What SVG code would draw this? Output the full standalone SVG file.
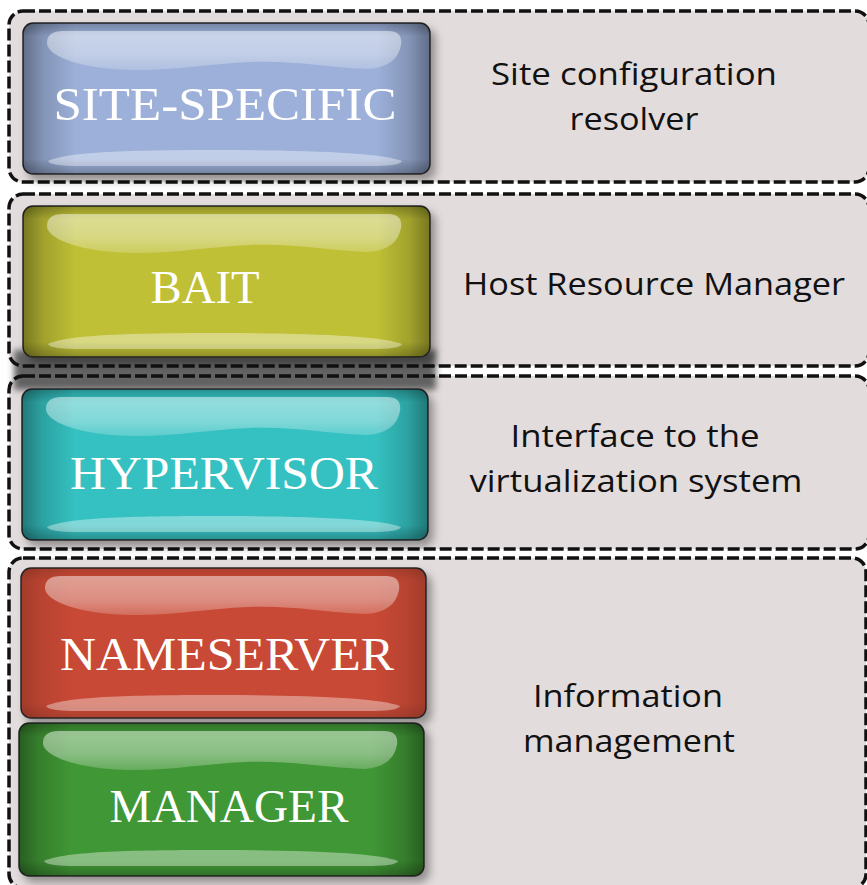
<svg xmlns="http://www.w3.org/2000/svg" width="867" height="885" viewBox="0 0 867 885">
<style>
.panel-bg{fill:#e3dcdc;stroke:none}
.panel-line{fill:none;stroke:#111;stroke-width:3.5;stroke-dasharray:12 4}
.btn{stroke:#2a2a2a;stroke-width:1.5}
.edge-h{fill:url(#edgeH)}
.edge-v{fill:url(#edgeV)}
.hl-top{fill:url(#hlTop)}
.hl-bot{fill:#ffffff;fill-opacity:0.38}
.btn-label{font-family:"Liberation Serif","DejaVu Serif",serif;font-size:46px;fill:#ffffff;text-anchor:middle}
.desc{font-family:"Open Sans","Noto Sans","DejaVu Sans",sans-serif;font-size:31px;fill:#111;text-anchor:middle}
</style>
<defs>
<linearGradient id="edgeH" x1="0" y1="0" x2="1" y2="0">
<stop offset="0" stop-color="#000" stop-opacity="0.38"/>
<stop offset="0.05" stop-color="#000" stop-opacity="0.16"/>
<stop offset="0.13" stop-color="#000" stop-opacity="0"/>
<stop offset="0.87" stop-color="#000" stop-opacity="0"/>
<stop offset="0.95" stop-color="#000" stop-opacity="0.16"/>
<stop offset="1" stop-color="#000" stop-opacity="0.38"/>
</linearGradient>
<linearGradient id="edgeV" x1="0" y1="0" x2="0" y2="1">
<stop offset="0" stop-color="#000" stop-opacity="0.26"/>
<stop offset="0.09" stop-color="#000" stop-opacity="0"/>
<stop offset="0.9" stop-color="#000" stop-opacity="0"/>
<stop offset="1" stop-color="#000" stop-opacity="0.26"/>
</linearGradient>
<linearGradient id="hlTop" x1="0" y1="0" x2="0" y2="1">
<stop offset="0" stop-color="#fff" stop-opacity="0.48"/>
<stop offset="0.6" stop-color="#fff" stop-opacity="0.38"/>
<stop offset="1" stop-color="#fff" stop-opacity="0.2"/>
</linearGradient>
<filter id="shadow" x="-10%" y="-20%" width="125%" height="150%">
<feDropShadow dx="5" dy="6" stdDeviation="4" flood-color="#000" flood-opacity="0.35"/>
</filter>
<filter id="blur" x="-10%" y="-50%" width="120%" height="200%">
<feGaussianBlur stdDeviation="3"/>
</filter>
<path id="hlTopShape" d="M 40 8 L 365 8 Q 380 8 378 22 Q 374 44 345 46 C 300 44 270 37 227 39 C 180 41 140 50 90 46 C 45 42 24 30 24 20 Q 24 8 40 8 Z"/>
<path id="hlBotShape" d="M 25 138 C 45 128 120 127 200 127 C 290 127 360 130 379 138 C 376 143 360 143 340 143 L 60 143 C 40 143 27 142 25 138 Z"/>
</defs>
<rect width="867" height="885" fill="#ffffff"/>

<g id="panels-bg">
<rect class="panel-bg" x="9" y="11" width="860" height="171" rx="14"/>
<rect class="panel-bg" x="9" y="194" width="860" height="172" rx="14"/>
<rect class="panel-bg" x="9" y="376" width="860" height="173" rx="14"/>
<rect class="panel-bg" x="9" y="558" width="857" height="330" rx="14"/>
</g>

<rect x="14" y="350" width="422" height="40" fill="#626262" filter="url(#blur)"/>

<g id="panels-outline">
<rect class="panel-line" x="9" y="11" width="860" height="171" rx="14"/>
<rect class="panel-line" x="9" y="194" width="860" height="172" rx="14"/>
<rect class="panel-line" x="9" y="376" width="860" height="173" rx="14"/>
<rect class="panel-line" x="9" y="558" width="857" height="330" rx="14"/>
</g>

<g id="site-specific" transform="translate(23,23)">
<rect class="btn" width="407" height="151" rx="10" fill="#9cb0d9" filter="url(#shadow)"/>
<rect class="edge-h" width="407" height="151" rx="10"/>
<rect class="edge-v" width="407" height="151" rx="10"/>
<use href="#hlTopShape" class="hl-top"/>
<use href="#hlBotShape" class="hl-bot"/>
<text class="btn-label" x="202" y="97" textLength="343" lengthAdjust="spacingAndGlyphs">SITE-SPECIFIC</text>
</g>

<g id="bait" transform="translate(23,206)">
<rect class="btn" width="407" height="151" rx="10" fill="#bfc034" filter="url(#shadow)"/>
<rect class="edge-h" width="407" height="151" rx="10"/>
<rect class="edge-v" width="407" height="151" rx="10"/>
<use href="#hlTopShape" class="hl-top"/>
<use href="#hlBotShape" class="hl-bot"/>
<text class="btn-label" x="182" y="97" textLength="109" lengthAdjust="spacingAndGlyphs">BAIT</text>
</g>

<g id="hypervisor" transform="translate(22,389)">
<rect class="btn" width="406" height="151" rx="10" fill="#34c1c1" filter="url(#shadow)"/>
<rect class="edge-h" width="406" height="151" rx="10"/>
<rect class="edge-v" width="406" height="151" rx="10"/>
<use href="#hlTopShape" class="hl-top"/>
<use href="#hlBotShape" class="hl-bot"/>
<text class="btn-label" x="202" y="100" textLength="308" lengthAdjust="spacingAndGlyphs">HYPERVISOR</text>
</g>

<g id="nameserver" transform="translate(21,568)">
<rect class="btn" width="405" height="150" rx="10" fill="#c84834" filter="url(#shadow)"/>
<rect class="edge-h" width="405" height="150" rx="10" opacity="0.5"/>
<rect class="edge-v" width="405" height="150" rx="10" opacity="0.5"/>
<use href="#hlTopShape" class="hl-top"/>
<use href="#hlBotShape" class="hl-bot"/>
<text class="btn-label" x="206" y="102" textLength="334" lengthAdjust="spacingAndGlyphs">NAMESERVER</text>
</g>

<g id="manager" transform="translate(19,723)">
<rect class="btn" width="405" height="153" rx="10" fill="#3f9734" filter="url(#shadow)"/>
<rect class="edge-h" width="405" height="153" rx="10"/>
<rect class="edge-v" width="405" height="153" rx="10"/>
<use href="#hlTopShape" class="hl-top"/>
<use href="#hlBotShape" class="hl-bot"/>
<text class="btn-label" x="210" y="99" textLength="239" lengthAdjust="spacingAndGlyphs">MANAGER</text>
</g>

<g id="label-site">
<text class="desc" x="634" y="85" textLength="286" lengthAdjust="spacingAndGlyphs">Site configuration</text>
<text class="desc" x="634" y="130" textLength="129" lengthAdjust="spacingAndGlyphs">resolver</text>
</g>
<g id="label-bait">
<text class="desc" x="654" y="295" textLength="382" lengthAdjust="spacingAndGlyphs">Host Resource Manager</text>
</g>
<g id="label-hypervisor">
<text class="desc" x="635" y="447" textLength="249" lengthAdjust="spacingAndGlyphs">Interface to the</text>
<text class="desc" x="636" y="492" textLength="333" lengthAdjust="spacingAndGlyphs">virtualization system</text>
</g>
<g id="label-info">
<text class="desc" x="628" y="707" textLength="190" lengthAdjust="spacingAndGlyphs">Information</text>
<text class="desc" x="629" y="752" textLength="212" lengthAdjust="spacingAndGlyphs">management</text>
</g>
<g id="connectors"/>
</svg>
